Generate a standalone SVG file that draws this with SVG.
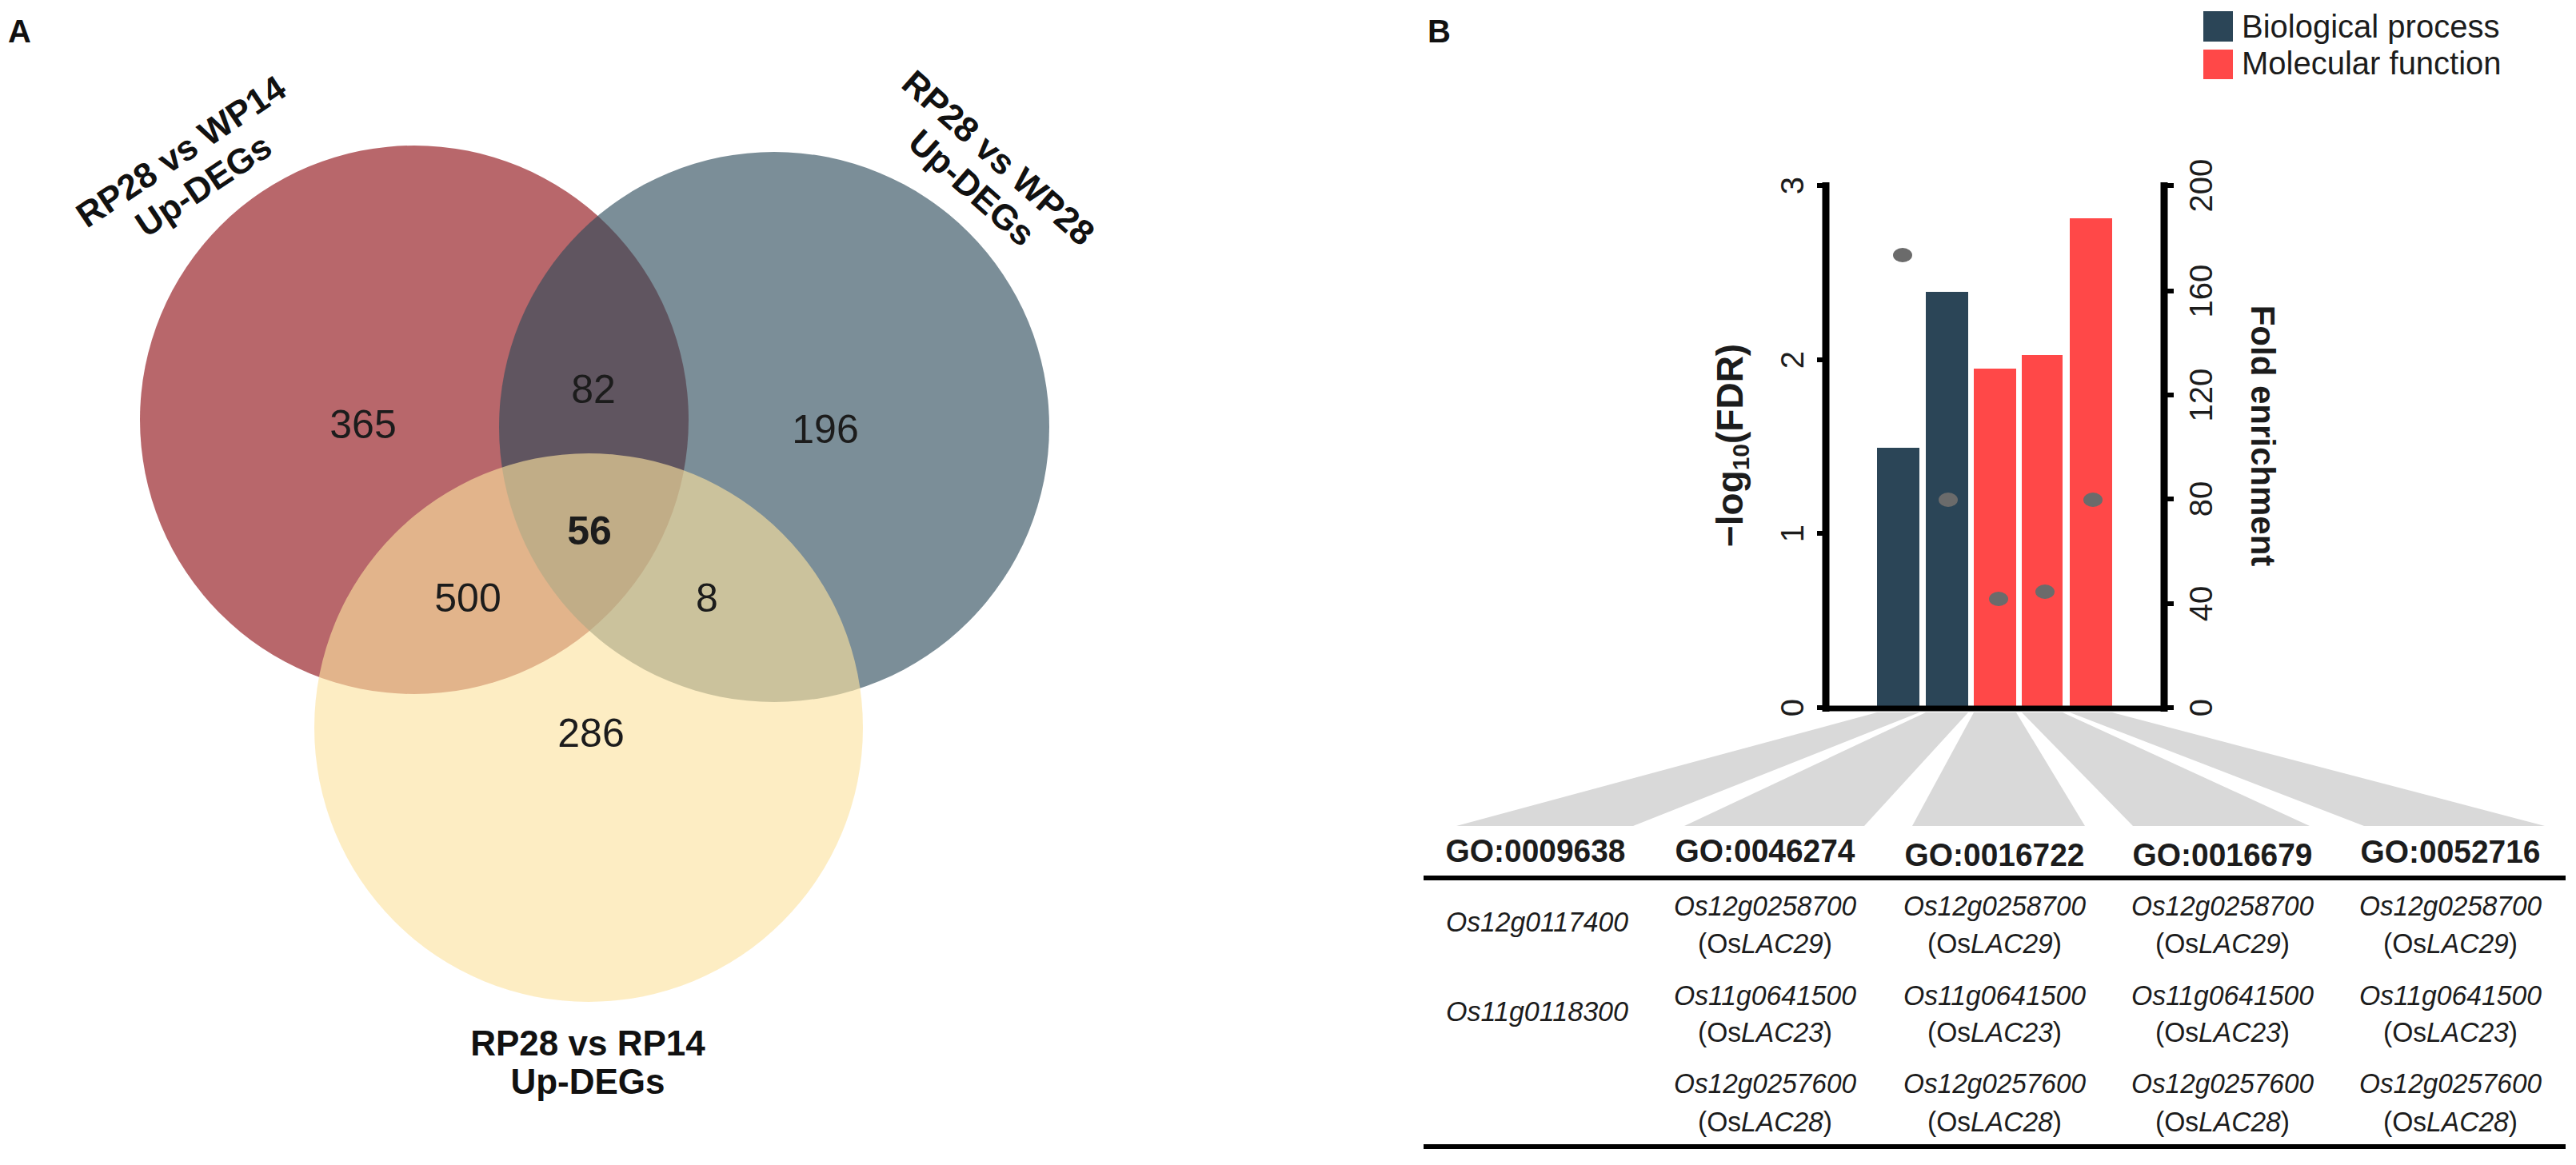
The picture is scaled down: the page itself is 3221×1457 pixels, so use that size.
<svg xmlns="http://www.w3.org/2000/svg" width="3221" height="1457" viewBox="0 0 3221 1457">
<style>
text{font-family:"Liberation Sans",Arial,sans-serif;fill:#1c1c1c}
.panel{font-size:40px;font-weight:bold;fill:#111}
.vlab{font-size:44px;font-weight:bold;fill:#111;text-anchor:middle}
.num{font-size:50px;text-anchor:middle}
.tick{font-size:40px;text-anchor:middle}
.leg{font-size:40px}
.hdr{font-size:40px;font-weight:bold;text-anchor:middle}
.gene{font-size:35px;font-style:italic;text-anchor:middle}
.up{font-style:normal}
.ax{stroke:#000;stroke-width:9;fill:none}
.tk{stroke:#000;stroke-width:6}
.bp{fill:#2b4557}
.mf{fill:#ff4848}
.dot{fill:#6b6b6b}
.fan{fill:#d9d9d9}
.rule{stroke:#000;stroke-width:6}
</style>
<rect width="3221" height="1457" fill="#fff"/>
<g id="panel-a">
<text class="panel" x="10" y="53">A</text>
<g id="set-wp14"><circle cx="518" cy="525" r="343" fill="#8d0c11" fill-opacity="0.625"/></g>
<g id="set-wp28"><circle cx="968" cy="534" r="344" fill="#2c495a" fill-opacity="0.625"/></g>
<g id="set-rp14"><circle cx="736" cy="910" r="343" fill="#fce29f" fill-opacity="0.625"/></g>
<g id="venn-labels">
<text class="vlab" transform="translate(234.6,202) rotate(-33.7)"><tspan x="0" y="0">RP28 vs WP14</tspan><tspan x="0" y="51">Up-DEGs</tspan></text>
<text class="vlab" transform="translate(1238.4,208.7) rotate(41.6)"><tspan x="0" y="0">RP28 vs WP28</tspan><tspan x="0" y="50">Up-DEGs</tspan></text>
<text class="vlab"><tspan x="735" y="1320">RP28 vs RP14</tspan><tspan x="735" y="1368">Up-DEGs</tspan></text>
</g>
<g id="venn-counts">
<text class="num" x="454" y="548">365</text>
<text class="num" x="742" y="504">82</text>
<text class="num" x="1032" y="554">196</text>
<text class="num" x="737" y="681" font-weight="bold">56</text>
<text class="num" x="585" y="765">500</text>
<text class="num" x="884" y="765">8</text>
<text class="num" x="739" y="934">286</text>
</g>
</g>
<g id="panel-b">
<text class="panel" x="1785" y="53">B</text>
<g id="legend">
<rect x="2755" y="14" width="37" height="38" class="bp"/>
<rect x="2755" y="62" width="37" height="37" class="mf"/>
<text class="leg" x="2803" y="47">Biological process</text>
<text class="leg" x="2803" y="93">Molecular function</text>
</g>
<g id="fans">
<polygon class="fan" points="2347,891 2400,891 2042,1033 1821,1033"/>
<polygon class="fan" points="2408,891 2461,891 2331,1033 2106,1033"/>
<polygon class="fan" points="2468,891 2521,891 2607,1033 2391,1033"/>
<polygon class="fan" points="2528,891 2579,891 2888,1033 2667,1033"/>
<polygon class="fan" points="2588,891 2641,891 3182,1033 2956,1033"/>
</g>
<g id="bars">
<rect x="2347" y="560" width="53" height="326" class="bp"/>
<rect x="2408" y="365" width="53" height="521" class="bp"/>
<rect x="2468" y="461" width="53" height="425" class="mf"/>
<rect x="2528" y="444" width="51" height="442" class="mf"/>
<rect x="2588" y="273" width="53" height="613" class="mf"/>
</g>
<g id="dots">
<ellipse class="dot" cx="2379" cy="319" rx="12" ry="9"/>
<ellipse class="dot" cx="2436" cy="625" rx="12" ry="9"/>
<ellipse class="dot" cx="2499" cy="749" rx="12" ry="9"/>
<ellipse class="dot" cx="2557" cy="740" rx="12" ry="9"/>
<ellipse class="dot" cx="2617" cy="625" rx="12" ry="9"/>
</g>
<g id="axes">
<line class="ax" x1="2283" y1="228" x2="2283" y2="890"/>
<line class="ax" x1="2706" y1="228" x2="2706" y2="890"/>
<line x1="2279" y1="886" x2="2710" y2="886" stroke="#000" stroke-width="7"/>
<line class="tk" x1="2272" y1="232" x2="2283" y2="232"/>
<line class="tk" x1="2272" y1="450" x2="2283" y2="450"/>
<line class="tk" x1="2272" y1="667" x2="2283" y2="667"/>
<line class="tk" x1="2272" y1="885" x2="2283" y2="885"/>
<line class="tk" x1="2706" y1="232" x2="2718" y2="232"/>
<line class="tk" x1="2706" y1="364" x2="2718" y2="364"/>
<line class="tk" x1="2706" y1="494" x2="2718" y2="494"/>
<line class="tk" x1="2706" y1="624" x2="2718" y2="624"/>
<line class="tk" x1="2706" y1="755" x2="2718" y2="755"/>
<line class="tk" x1="2706" y1="885" x2="2718" y2="885"/>
<text class="tick" transform="translate(2255,232) rotate(-90)">3</text>
<text class="tick" transform="translate(2255,450) rotate(-90)">2</text>
<text class="tick" transform="translate(2255,667) rotate(-90)">1</text>
<text class="tick" transform="translate(2255,885) rotate(-90)">0</text>
<text class="tick" transform="translate(2766,232) rotate(-90)">200</text>
<text class="tick" transform="translate(2766,364) rotate(-90)">160</text>
<text class="tick" transform="translate(2766,494) rotate(-90)">120</text>
<text class="tick" transform="translate(2766,624) rotate(-90)">80</text>
<text class="tick" transform="translate(2766,755) rotate(-90)">40</text>
<text class="tick" transform="translate(2766,885) rotate(-90)">0</text>
<text transform="translate(2179,557) rotate(-90)" font-size="46" font-weight="bold" text-anchor="middle">−log<tspan font-size="30" dy="8">10</tspan><tspan dy="-8">(FDR)</tspan></text>
<text transform="translate(2815,545) rotate(90)" font-size="42" font-weight="bold" text-anchor="middle">Fold enrichment</text>
</g>
<g id="table">
<line class="rule" x1="1780" y1="1098" x2="3208" y2="1098"/>
<line class="rule" x1="1780" y1="1434" x2="3208" y2="1434"/>
<text class="hdr" x="1920" y="1078" textLength="225" lengthAdjust="spacingAndGlyphs">GO:0009638</text>
<text class="hdr" x="2207" y="1078" textLength="225" lengthAdjust="spacingAndGlyphs">GO:0046274</text>
<text class="hdr" x="2494" y="1083" textLength="225" lengthAdjust="spacingAndGlyphs">GO:0016722</text>
<text class="hdr" x="2779" y="1083" textLength="225" lengthAdjust="spacingAndGlyphs">GO:0016679</text>
<text class="hdr" x="3064" y="1079" textLength="225" lengthAdjust="spacingAndGlyphs">GO:0052716</text>
<text class="gene" x="1922" y="1165" textLength="228" lengthAdjust="spacingAndGlyphs">Os12g0117400</text>
<text class="gene" x="1922" y="1277" textLength="228" lengthAdjust="spacingAndGlyphs">Os11g0118300</text>
<g id="col2">
<text class="gene"><tspan x="2207" y="1145" textLength="228" lengthAdjust="spacingAndGlyphs">Os12g0258700</tspan><tspan x="2207" y="1192" textLength="168" lengthAdjust="spacingAndGlyphs"><tspan class="up">(Os</tspan>LAC29<tspan class="up">)</tspan></tspan></text>
<text class="gene"><tspan x="2207" y="1257" textLength="228" lengthAdjust="spacingAndGlyphs">Os11g0641500</tspan><tspan x="2207" y="1303" textLength="168" lengthAdjust="spacingAndGlyphs"><tspan class="up">(Os</tspan>LAC23<tspan class="up">)</tspan></tspan></text>
<text class="gene"><tspan x="2207" y="1367" textLength="228" lengthAdjust="spacingAndGlyphs">Os12g0257600</tspan><tspan x="2207" y="1415" textLength="168" lengthAdjust="spacingAndGlyphs"><tspan class="up">(Os</tspan>LAC28<tspan class="up">)</tspan></tspan></text>
</g>
<g id="col3">
<text class="gene"><tspan x="2494" y="1145" textLength="228" lengthAdjust="spacingAndGlyphs">Os12g0258700</tspan><tspan x="2494" y="1192" textLength="168" lengthAdjust="spacingAndGlyphs"><tspan class="up">(Os</tspan>LAC29<tspan class="up">)</tspan></tspan></text>
<text class="gene"><tspan x="2494" y="1257" textLength="228" lengthAdjust="spacingAndGlyphs">Os11g0641500</tspan><tspan x="2494" y="1303" textLength="168" lengthAdjust="spacingAndGlyphs"><tspan class="up">(Os</tspan>LAC23<tspan class="up">)</tspan></tspan></text>
<text class="gene"><tspan x="2494" y="1367" textLength="228" lengthAdjust="spacingAndGlyphs">Os12g0257600</tspan><tspan x="2494" y="1415" textLength="168" lengthAdjust="spacingAndGlyphs"><tspan class="up">(Os</tspan>LAC28<tspan class="up">)</tspan></tspan></text>
</g>
<g id="col4">
<text class="gene"><tspan x="2779" y="1145" textLength="228" lengthAdjust="spacingAndGlyphs">Os12g0258700</tspan><tspan x="2779" y="1192" textLength="168" lengthAdjust="spacingAndGlyphs"><tspan class="up">(Os</tspan>LAC29<tspan class="up">)</tspan></tspan></text>
<text class="gene"><tspan x="2779" y="1257" textLength="228" lengthAdjust="spacingAndGlyphs">Os11g0641500</tspan><tspan x="2779" y="1303" textLength="168" lengthAdjust="spacingAndGlyphs"><tspan class="up">(Os</tspan>LAC23<tspan class="up">)</tspan></tspan></text>
<text class="gene"><tspan x="2779" y="1367" textLength="228" lengthAdjust="spacingAndGlyphs">Os12g0257600</tspan><tspan x="2779" y="1415" textLength="168" lengthAdjust="spacingAndGlyphs"><tspan class="up">(Os</tspan>LAC28<tspan class="up">)</tspan></tspan></text>
</g>
<g id="col5">
<text class="gene"><tspan x="3064" y="1145" textLength="228" lengthAdjust="spacingAndGlyphs">Os12g0258700</tspan><tspan x="3064" y="1192" textLength="168" lengthAdjust="spacingAndGlyphs"><tspan class="up">(Os</tspan>LAC29<tspan class="up">)</tspan></tspan></text>
<text class="gene"><tspan x="3064" y="1257" textLength="228" lengthAdjust="spacingAndGlyphs">Os11g0641500</tspan><tspan x="3064" y="1303" textLength="168" lengthAdjust="spacingAndGlyphs"><tspan class="up">(Os</tspan>LAC23<tspan class="up">)</tspan></tspan></text>
<text class="gene"><tspan x="3064" y="1367" textLength="228" lengthAdjust="spacingAndGlyphs">Os12g0257600</tspan><tspan x="3064" y="1415" textLength="168" lengthAdjust="spacingAndGlyphs"><tspan class="up">(Os</tspan>LAC28<tspan class="up">)</tspan></tspan></text>
</g>
</g>
</g>
</svg>
